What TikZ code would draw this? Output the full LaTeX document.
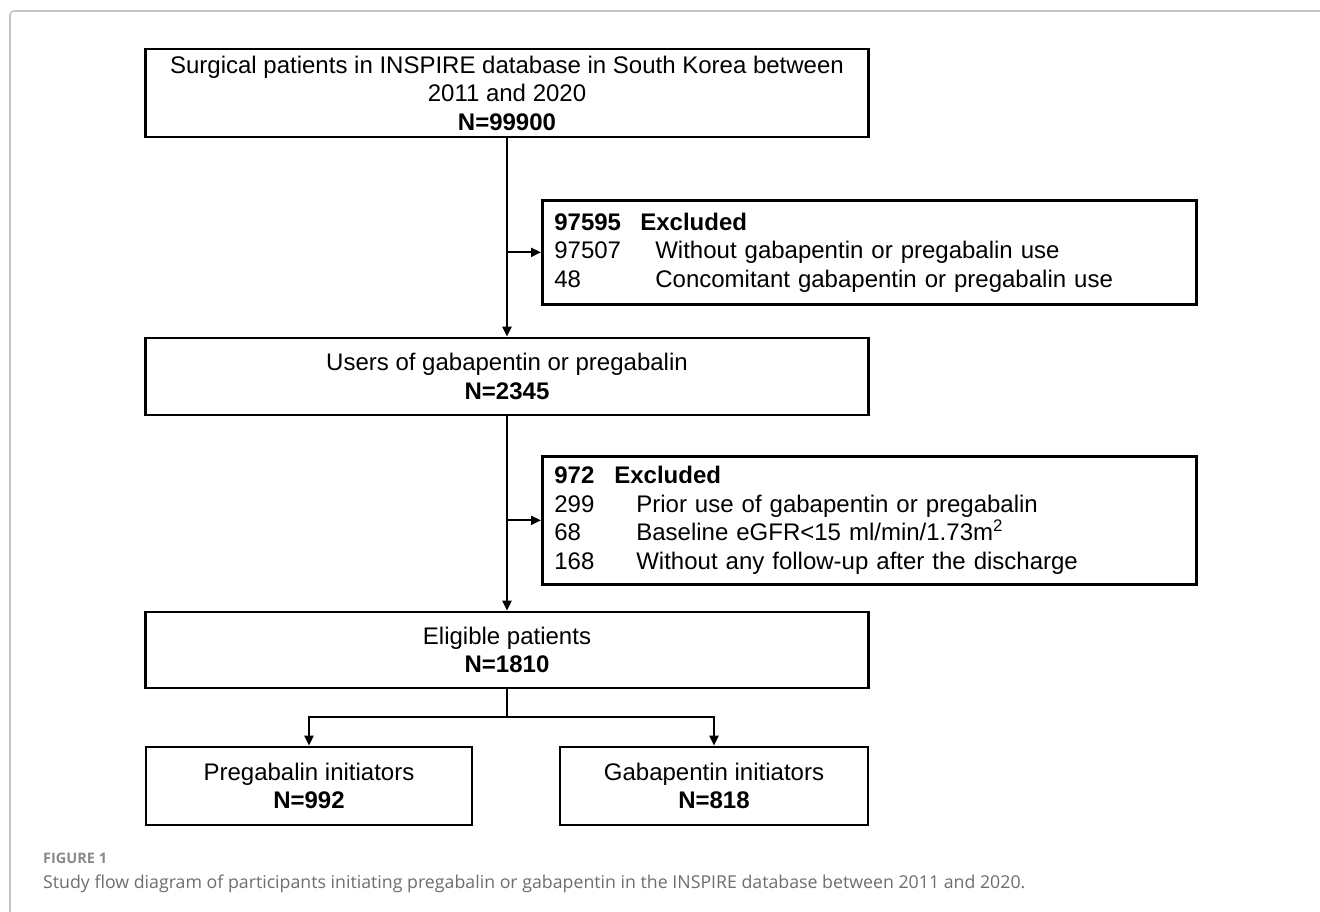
\documentclass[tikz,border=0pt]{standalone}
\usepackage{fontspec}
\setmainfont{Liberation Sans}
\newfontfamily\capfont{Open Sans}
\usetikzlibrary{arrows.meta}
\definecolor{framegray}{HTML}{C4C4C4}
\definecolor{capgray}{HTML}{6E6E6E}
\definecolor{figgray}{HTML}{8A8A8A}
\tikzset{
  boxtext/.style={font=\fontsize{24}{28.5}\selectfont},
  mainbox/.style={draw=black, line width=2.7pt, boxtext, align=center, inner sep=0pt},
  exbox/.style={draw=black, line width=2.7pt, boxtext, align=left, inner xsep=12pt, inner ysep=0pt,
                text width=630pt, minimum height=104pt, anchor=north west},
  conn/.style={line width=2pt, draw=black},
  arrconn/.style={conn, -{Triangle[length=10pt,width=9pt]}},
}
\begin{document}
\begin{tikzpicture}[x=1pt,y=-1pt]
\useasboundingbox[fill=white] (0,0) rectangle (1320,912);
\draw[framegray, line width=1.6pt, rounded corners=4pt] (10,912) -- (10,11) -- (1320,11);

\node[mainbox, minimum width=723pt, minimum height=88pt] (b1) at (507,93)
  {Surgical patients in INSPIRE database in South Korea between\\2011 and 2020\\\textbf{N=99900}};
\node[exbox, minimum height=104pt] (e1) at (541,199)
  {\textbf{\makebox[86pt][l]{97595}Excluded}\\
   \makebox[101pt][l]{97507}Without gabapentin or pregabalin use\\
   \makebox[101pt][l]{48}Concomitant gabapentin or pregabalin use};
\node[mainbox, minimum width=723pt, minimum height=77pt] (b2) at (507,376.5)
  {Users of gabapentin or pregabalin\\\textbf{N=2345}};
\node[exbox, minimum height=128pt] (e2) at (541,455)
  {\textbf{\makebox[60pt][l]{972}Excluded}\\
   \makebox[82pt][l]{299}Prior use of gabapentin or pregabalin\\
   \makebox[82pt][l]{68}Baseline eGFR<15 ml/min/1.73m\textsuperscript{2}\\
   \makebox[82pt][l]{168}Without any follow-up after the discharge};
\node[mainbox, minimum width=723pt, minimum height=76pt] (b3) at (507,650)
  {Eligible patients\\\textbf{N=1810}};
\node[mainbox, minimum width=326pt, minimum height=78pt] (b4) at (309,786)
  {Pregabalin initiators\\\textbf{N=992}};
\node[mainbox, minimum width=308pt, minimum height=78pt] (b5) at (714,786)
  {Gabapentin initiators\\\textbf{N=818}};

\coordinate (br) at (507,717);
\draw[arrconn] (b1.south) -- (b2.north);
\draw[arrconn] (b1.south |- e1.west) -- (e1.west);
\draw[arrconn] (b2.south) -- (b3.north);
\draw[arrconn] (b2.south |- e2.west) -- (e2.west);
\draw[conn] (b3.south) -- (br);
\draw[arrconn] (br) -| (b4.north);
\draw[arrconn] (br) -| (b5.north);

\node[anchor=base west, inner sep=0pt, font=\capfont\bfseries\fontsize{14.5}{17}\selectfont, text=figgray] (fig) at (43,863) {FIGURE 1};
\node[anchor=base west, inner sep=0pt, font=\capfont\fontsize{17.75}{22}\selectfont, text=capgray] (cap) at (43,888)
  {Study flow diagram of participants initiating pregabalin or gabapentin in the INSPIRE database between 2011 and 2020.};
\end{tikzpicture}
\end{document}
